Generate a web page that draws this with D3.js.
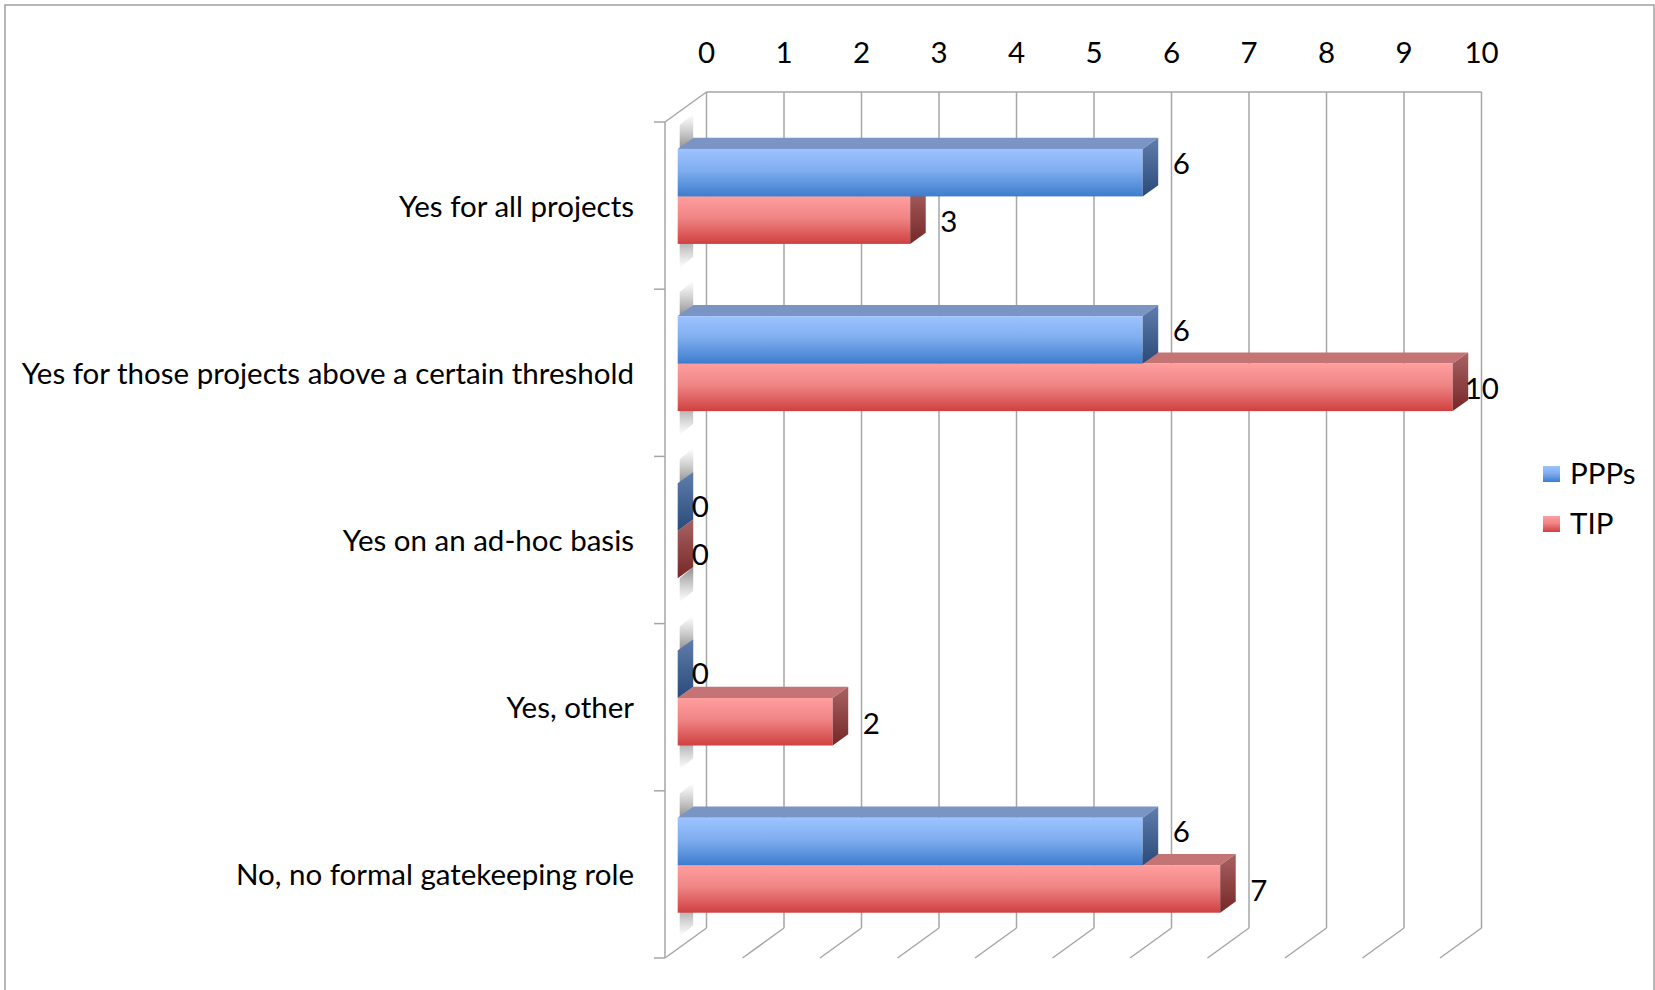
<!DOCTYPE html>
<html>
<head>
<meta charset="utf-8">
<script src="https://cdn.jsdelivr.net/npm/d3@7"></script>
<style>
  html, body { margin: 0; padding: 0; background: #fff; }
  svg { display: block; }
  text { font-family: Lato, "Open Sans", sans-serif; fill: #000; }
</style>
</head>
<body>
<svg id="chart" width="1655" height="990"></svg>
<script>
// ---- data ----
const categories = [
  "Yes for all projects",
  "Yes for those projects above a certain threshold",
  "Yes on an ad-hoc basis",
  "Yes, other",
  "No, no formal gatekeeping role"
];
const seriesNames = ["PPPs", "TIP"];
const pppValues = [6, 6, 0, 0, 6];
const tipValues = [3, 10, 0, 2, 7];
const tickValues = [0, 1, 2, 3, 4, 5, 6, 7, 8, 9, 10];

// ---- layout ----
const frontX0 = 665;           // x of value 0 on the front plane
const depthDX = 41.5, depthDY = -30;   // front -> back offset
const plotTop = 122, plotBottom = 958; // front plane vertical extent
const dFront = 0.306, dBack = 0.68;    // bar depth range (0 = front, 1 = back)
const fontSize = 29.5;

const svg = d3.select("#chart");
const x = d3.scaleLinear().domain([0, 10]).range([0, 775]);
const yCat = d3.scaleBand().domain(categories).range([plotTop, plotBottom]).padding(0);
const ySer = d3.scaleBand().domain(seriesNames).range([0, yCat.bandwidth()])
  .paddingInner(0).paddingOuter(0.76);

function P(v, yf, d) {
  return [frontX0 + x(v) + d * depthDX, yf + d * depthDY];
}
function poly(pts) { return pts.map(p => p.join(",")).join(" "); }

// ---- gradients ----
const defs = svg.append("defs");
function vGrad(id, stops) {
  const g = defs.append("linearGradient").attr("id", id)
    .attr("x1", 0).attr("y1", 0).attr("x2", 0).attr("y2", 1);
  stops.forEach(s => g.append("stop").attr("offset", s[0]).attr("stop-color", s[1])
    .attr("stop-opacity", s[2] === undefined ? 1 : s[2]));
}
vGrad("blueFront", [[0, "#9DC3FF"], [0.45, "#80AEF0"], [1, "#3D7CCD"]]);
vGrad("redFront", [[0, "#FF9E9E"], [0.45, "#F08585"], [1, "#D04040"]]);
vGrad("blueSide", [[0, "#5F7DAD"], [1, "#2A4A7A"]]);
vGrad("redSide", [[0, "#A86262"], [1, "#772727"]]);
vGrad("shadowUp", [[0, "#9a9a9a", 0], [1, "#7a7a7a", 0.85]]);
vGrad("shadowDown", [[0, "#7a7a7a", 0.85], [1, "#9a9a9a", 0]]);

const styles = {
  PPPs: { front: "url(#blueFront)", top: "#7A94C4", side: "url(#blueSide)", values: pppValues, dy: -9 },
  TIP:  { front: "url(#redFront)",  top: "#C47474", side: "url(#redSide)",  values: tipValues, dy: 2 }
};

// ---- outer border ----
svg.append("rect").attr("x", 5).attr("y", 5).attr("width", 1649).attr("height", 990)
  .attr("fill", "#fff").attr("stroke", "#A0A0A0").attr("stroke-width", 1.5);

// ---- walls / gridlines ----
const grid = svg.append("g").attr("stroke", "#A6A6A6").attr("stroke-width", 1.5).attr("fill", "none");
const backTop = plotTop + depthDY, backBottom = plotBottom + depthDY;
tickValues.forEach(t => {
  const bx = frontX0 + depthDX + x(t);
  grid.append("line").attr("x1", bx).attr("x2", bx).attr("y1", backTop).attr("y2", backBottom);
  grid.append("line").attr("x1", bx).attr("y1", backBottom).attr("x2", bx - depthDX).attr("y2", plotBottom);
});
grid.append("line").attr("x1", frontX0 + depthDX).attr("x2", frontX0 + depthDX + x(10))
  .attr("y1", backTop).attr("y2", backTop);
// left wall
grid.append("line").attr("x1", frontX0).attr("x2", frontX0).attr("y1", plotTop).attr("y2", plotBottom);
grid.append("line").attr("x1", frontX0).attr("y1", plotTop).attr("x2", frontX0 + depthDX).attr("y2", backTop);
// category ticks
const catEdges = categories.map(c => yCat(c)).concat([plotBottom]);
catEdges.forEach(yv => {
  grid.append("line").attr("x1", frontX0 - 11).attr("x2", frontX0).attr("y1", yv).attr("y2", yv);
});

// ---- top value axis labels ----
svg.append("g").selectAll("text").data(tickValues).join("text")
  .attr("x", t => frontX0 + depthDX + x(t))
  .attr("y", 63)
  .attr("text-anchor", "middle")
  .attr("font-size", fontSize)
  .text(t => t);

// ---- category labels ----
svg.append("g").selectAll("text").data(categories).join("text")
  .attr("x", 634)
  .attr("y", c => yCat(c) + yCat.bandwidth() / 2 + 11)
  .attr("text-anchor", "end")
  .attr("font-size", fontSize)
  .text(c => c);

// ---- wall shadows next to bar groups ----
const shadows = svg.append("g");
categories.forEach(c => {
  const yTop = yCat(c) + ySer("PPPs");
  const yBot = yCat(c) + ySer("TIP") + ySer.bandwidth();
  const a = P(0, yTop, dFront), b = P(0, yTop, dBack);
  shadows.append("polygon")
    .attr("points", poly([[a[0] + 2, a[1]], b, [b[0], b[1] - 24], [a[0] + 2, a[1] - 24]]))
    .attr("fill", "url(#shadowUp)");
  const e = P(0, yBot, dFront), f = P(0, yBot, dBack);
  shadows.append("polygon")
    .attr("points", poly([[e[0] + 2, e[1]], f, [f[0], f[1] + 24], [e[0] + 2, e[1] + 24]]))
    .attr("fill", "url(#shadowDown)");
});

// ---- bars (TIP first so PPPs front face covers its top face) ----
const bars = svg.append("g");
const labels = svg.append("g");
categories.forEach((c, i) => {
  ["TIP", "PPPs"].forEach(s => {
    const st = styles[s];
    const v = st.values[i];
    const y0 = yCat(c) + ySer(s), y1 = y0 + ySer.bandwidth();
    if (v > 0) {
      bars.append("polygon")
        .attr("points", poly([P(0, y0, dFront), P(v, y0, dFront), P(v, y0, dBack), P(0, y0, dBack)]))
        .attr("fill", st.top);
      const fl = P(0, y0, dFront), fr = P(v, y1, dFront);
      bars.append("rect").attr("x", fl[0]).attr("y", fl[1])
        .attr("width", fr[0] - fl[0]).attr("height", fr[1] - fl[1])
        .attr("fill", st.front);
    }
    bars.append("polygon")
      .attr("points", poly([P(v, y0, dFront), P(v, y1, dFront), P(v, y1, dBack), P(v, y0, dBack)]))
      .attr("fill", st.side);
  });
  ["PPPs", "TIP"].forEach(s => {
    const st = styles[s];
    const v = st.values[i];
    const y0 = yCat(c) + ySer(s), y1 = y0 + ySer.bandwidth();
    const cx = P(v, 0, dFront)[0];
    const cy = (y0 + y1) / 2 + dFront * depthDY;
    labels.append("text")
      .attr("x", v > 0 ? (v >= 10 ? cx + 12 : cx + 30) : cx + 14)
      .attr("y", cy + (v > 0 ? st.dy : 0) + 10)
      .attr("font-size", fontSize)
      .text(v);
  });
});

// ---- legend ----
const legend = svg.append("g");
seriesNames.forEach((s, i) => {
  const ly = 474 + i * 50;
  legend.append("rect").attr("x", 1543).attr("y", ly - 8).attr("width", 17).attr("height", 16)
    .attr("fill", styles[s].front);
  legend.append("text").attr("x", 1570).attr("y", ly + 10).attr("font-size", fontSize).text(s);
});
</script>
</body>
</html>
